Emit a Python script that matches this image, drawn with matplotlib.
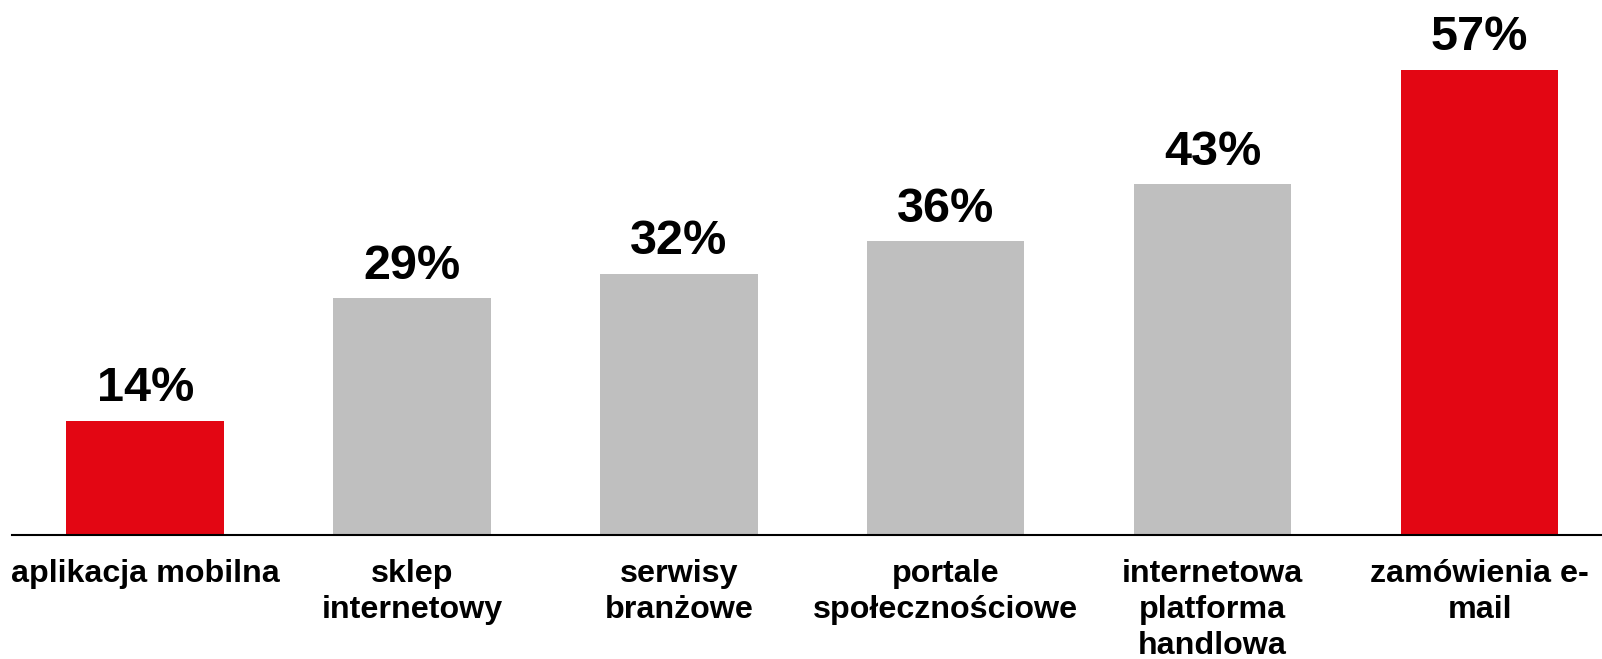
import numpy as np
import matplotlib
matplotlib.use('Agg')
import matplotlib.pyplot as plt

plt.rcParams['font.family'] = ['Liberation Sans', 'DejaVu Sans']

categories = ['aplikacja mobilna', 'sklep\ninternetowy', 'serwisy\nbranżowe',
              'portale\nspołecznościowe', 'internetowa\nplatforma\nhandlowa',
              'zamówienia e-\nmail']
values = [14, 29, 32, 36, 43, 57]
labels = ['14%', '29%', '32%', '36%', '43%', '57%']
highlight = [True, False, False, False, False, True]

RED = '#E30613'
GREY = '#BFBFBF'

fig = plt.figure(figsize=(16.02, 6.59), dpi=100)
# axes: left edge at the axis line start, bottom at the baseline
ax = fig.add_axes([11.7 / 1602, 124 / 659, 1 - 11.7 / 1602, 535 / 659])

x = np.arange(len(categories))
colors = [RED if h else GREY for h in highlight]
ax.bar(x, values, width=0.59, color=colors, zorder=2)

for xi, v, lab in zip(x, values, labels):
    ax.annotate(lab, (xi, v), xytext=(0, 14), textcoords='offset points',
                ha='center', va='baseline', fontsize=35, fontweight='bold')

ax.set_xlim(-0.5, 5.459)
ax.set_ylim(0, 65.56)

for s in ['top', 'right', 'left']:
    ax.spines[s].set_visible(False)
ax.spines['bottom'].set_linewidth(1.5)
ax.spines['bottom'].set_color('black')
ax.set_yticks([])
ax.set_xticks(x)
ax.set_xticklabels(categories, fontsize=23.2, fontweight='bold', linespacing=1.27)
ax.tick_params(axis='x', length=0, pad=17)

fig.savefig('out.png', dpi=100)
